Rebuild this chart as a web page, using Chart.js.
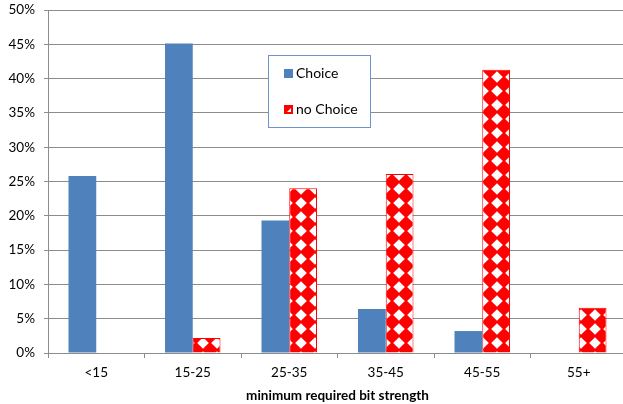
<!DOCTYPE html>
<html>
<head>
<meta charset="utf-8">
<script src="https://cdn.jsdelivr.net/npm/chart.js@4/dist/chart.umd.min.js"></script>
<style>
    html, body { margin: 0; padding: 0; background: #fff; overflow: hidden; }
    #wrap { width: 627px; height: 404px; }
</style>
</head>
<body>
<div id="wrap"><canvas id="bitChart"></canvas></div>
<script>
// Data
const categories = ['<15', '15-25', '25-35', '35-45', '45-55', '55+'];
const choiceValues = [25.8, 45.1, 19.3, 6.4, 3.2, 0];
const noChoiceValues = [0, 2.2, 24.0, 26.1, 41.3, 6.6];
const yTicks = [0, 5, 10, 15, 20, 25, 30, 35, 40, 45, 50];

const FONT = 'Lato, "Open Sans", sans-serif';
const GRID = '#8c8c8c';

// Red/white diamond fill like the Excel pattern
function makeDiamondPattern() {
    const c = document.createElement('canvas');
    c.width = 14; c.height = 14;
    const g = c.getContext('2d');
    g.fillStyle = '#ff0000';
    g.fillRect(0, 0, 14, 14);
    g.fillStyle = '#ffffff';
    g.beginPath();
    g.moveTo(7, 1.2);
    g.lineTo(12.8, 7);
    g.lineTo(7, 12.8);
    g.lineTo(1.2, 7);
    g.closePath();
    g.fill();
    return g.createPattern(c, 'repeat');
}
const diamonds = makeDiamondPattern();

// Legend in a framed box inside the plot
const boxLegend = {
    id: 'boxLegend',
    afterDraw(chart) {
        const ctx = chart.ctx;
        const x = 268.5, y = 55.5, w = 102, h = 72;
        ctx.save();
        ctx.fillStyle = '#fff';
        ctx.fillRect(x, y, w, h);
        ctx.strokeStyle = '#6f93c9';
        ctx.lineWidth = 1;
        ctx.strokeRect(x, y, w, h);
        ctx.font = '14px ' + FONT;
        ctx.textBaseline = 'middle';
        chart.data.datasets.forEach((ds, i) => {
            const cy = 73 + i * 36;
            ctx.fillStyle = ds.legendColor;
            ctx.fillRect(284, cy - 4, 9, 9);
            if (i === 1) {
                ctx.fillStyle = '#fff';
                ctx.beginPath();
                ctx.moveTo(287, cy + 3);
                ctx.lineTo(291, cy + 3);
                ctx.lineTo(291, cy - 1);
                ctx.closePath();
                ctx.fill();
            }
            ctx.fillStyle = '#000';
            ctx.fillText(ds.label, 296, cy);
        });
        ctx.restore();
    }
};

new Chart(document.getElementById('bitChart'), {
    type: 'bar',
    data: {
        labels: categories,
        datasets: [{
            label: 'Choice',
            data: choiceValues,
            backgroundColor: '#4f81bd',
            legendColor: '#4f81bd',
            borderWidth: 0
        }, {
            label: 'no Choice',
            data: noChoiceValues,
            backgroundColor: diamonds,
            legendColor: '#ff0000',
            borderColor: '#ff0000',
            borderWidth: 1
        }]
    },
    options: {
        responsive: true,
        maintainAspectRatio: false,
        animation: false,
        layout: { padding: { top: 10, right: 0, left: 0, bottom: 0 } },
        datasets: {
            bar: { categoryPercentage: 0.575, barPercentage: 1 }
        },
        plugins: {
            legend: { display: false },
            tooltip: { enabled: false }
        },
        scales: {
            x: {
                afterFit(scale) {
                    scale.height = 51;
                    scale.paddingLeft = 0;
                    scale.paddingRight = 0;
                },
                grid: {
                    offset: true,
                    drawOnChartArea: false,
                    drawTicks: true,
                    tickLength: 5,
                    color: GRID
                },
                border: { color: GRID },
                ticks: {
                    color: '#000',
                    font: { family: FONT, size: 13.5 },
                    padding: 7
                },
                title: {
                    display: true,
                    text: 'minimum required bit strength',
                    color: '#000',
                    font: { family: FONT, size: 13.5, weight: 'bold' },
                    padding: { top: 6, bottom: 0 }
                }
            },
            y: {
                min: 0,
                max: 50,
                afterFit(scale) {
                    scale.width = 48;
                    scale.paddingTop = 0;
                    scale.paddingBottom = 0;
                },
                afterBuildTicks(scale) {
                    scale.ticks = yTicks.map(v => ({ value: v }));
                },
                grid: {
                    color: GRID,
                    tickLength: 4,
                    lineWidth: 1
                },
                border: { color: GRID },
                ticks: {
                    color: '#000',
                    font: { family: FONT, size: 13.5 },
                    padding: 9,
                    callback: v => v + '%'
                }
            }
        }
    },
    plugins: [boxLegend]
});
</script>
</body>
</html>
